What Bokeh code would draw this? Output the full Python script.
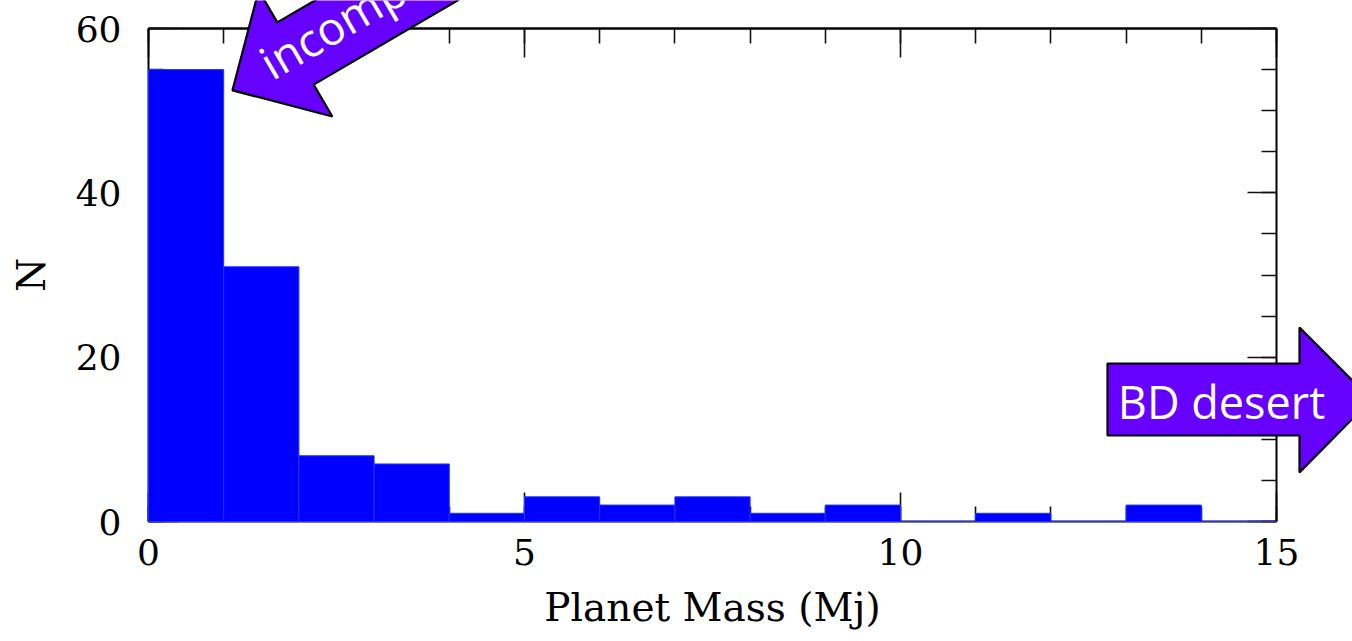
import math
from bokeh.plotting import figure
from bokeh.models import (FixedTicker, LinearAxis, Range1d, PolyAnnotation, Label,
                          ColumnDataSource, CustomJSTickFormatter)
from bokeh.embed import file_html
from bokeh.resources import INLINE

# ---- data ----
bin_left = [0, 1, 2, 3, 4, 5, 6, 7, 8, 9, 10, 11, 12, 13, 14]
bin_right = [1, 2, 3, 4, 5, 6, 7, 8, 9, 10, 11, 12, 13, 14, 15]
counts = [55, 31, 8, 7, 1, 3, 2, 3, 1, 2, 0, 1, 0, 2, 0]
x_ticks = [0, 5, 10, 15]
x_minor = list(range(0, 16))
y_ticks = [0, 20, 40, 60]
y_minor = list(range(0, 61, 5))
x_label = "Planet Mass (Mj)"
y_label = "N"
arrow1_text = "incompleteness"
arrow2_text = "BD desert"

X0, X1, Y0, Y1 = 0, 15, 0, 60          # data extent of the histogram box
W, H = 1352, 641
FL, FR, FT, FB = 148, 1276, 28, 521    # where that box sits on the page (px)

# ---- pixel -> data helpers ----
def dx(px):
    return X0 + (px - FL) / (FR - FL) * (X1 - X0)

def dy(py):
    return Y0 + (FB - py) / (FB - FT) * (Y1 - Y0)

p = figure(width=W, height=H,
           x_range=Range1d(dx(0), dx(W)), y_range=Range1d(dy(H), dy(0)),
           output_backend="svg", toolbar_location=None, min_border=0,
           x_axis_label=x_label, y_axis_label=y_label)
p.grid.visible = False
p.background_fill_color = "white"
p.border_fill_color = "white"
p.outline_line_color = None

blank = CustomJSTickFormatter(code="return ''")

def style_axis(ax, ticks, minor, bounds, loc, show_labels, lw=2):
    ax.ticker = FixedTicker(ticks=ticks, minor_ticks=minor)
    ax.bounds = bounds
    ax.fixed_location = loc
    ax.axis_line_color = "black"
    ax.axis_line_width = lw
    ax.major_tick_in = 29
    ax.major_tick_out = 0
    ax.minor_tick_in = 15
    ax.minor_tick_out = 0
    ax.major_tick_line_color = "#111111"
    ax.minor_tick_line_color = "#111111"
    ax.major_tick_line_width = 1.6
    ax.minor_tick_line_width = 1.6
    if show_labels:
        ax.major_label_text_font = "DejaVu Serif"
        ax.major_label_text_font_size = "36px"
        ax.major_label_text_color = "black"
        ax.axis_label_text_font = "DejaVu Serif"
        ax.axis_label_text_font_size = "39px"
        ax.axis_label_text_font_style = "normal"
        ax.axis_label_text_color = "black"
    else:
        ax.formatter = blank
        ax.major_label_standoff = 0

xa = p.xaxis[0]
ya = p.yaxis[0]
style_axis(xa, x_ticks, x_minor, (X0, X1), Y0, True)
style_axis(ya, y_ticks, y_minor, (Y0, Y1), X0, True)
xa.major_label_standoff = 17
xa.axis_label_standoff = 17
ya.major_label_standoff = 27
ya.axis_label_standoff = 19

top = LinearAxis()
style_axis(top, x_ticks, x_minor, (X0, X1), Y1, False, lw=2.6)
p.add_layout(top, "above")
right = LinearAxis()
style_axis(right, y_ticks, y_minor, (Y0, Y1), X1, False)
p.add_layout(right, "right")

src = ColumnDataSource(dict(left=bin_left, right=bin_right, top=counts, bottom=[0] * len(counts)))
bars = p.quad(left="left", right="right", top="top", bottom="bottom", source=src,
              fill_color="#0000FF", line_color="#2233FF", line_width=1)
bars.level = "annotation"

PURPLE = "#6600FF"

# Arrow 1: pointing down-left
ang = math.radians(30.3)
d = (math.cos(ang), -math.sin(ang))
n = (math.sin(ang), math.cos(ang))
M = (295.0, 53.0)
head_len, head_half, shaft_half, shaft_len = 73.0, 73.0, 36.0, 450.0
def pt(base, a, b):
    return (base[0] + a * d[0] + b * n[0], base[1] + a * d[1] + b * n[1])
a1 = [pt(M, -head_len, 0), pt(M, 0, head_half), pt(M, 0, shaft_half),
      pt(M, shaft_len, shaft_half), pt(M, shaft_len, -shaft_half),
      pt(M, 0, -shaft_half), pt(M, 0, -head_half)]
poly1 = PolyAnnotation(xs=[dx(q[0]) for q in a1], ys=[dy(q[1]) for q in a1],
                       fill_color=PURPLE, fill_alpha=1.0, line_color="black", line_width=2.2,
                       line_alpha=1.0, level="overlay")
p.add_layout(poly1)
t1x, t1y = 271 - 16 * n[0], 79 - 16 * n[1]
t1 = Label(x=dx(t1x), y=dy(t1y), text=arrow1_text, angle=ang, angle_units="rad",
           text_font="Open Sans", text_font_size="46px", text_color="white",
           text_align="left", text_baseline="alphabetic", level="overlay")
p.add_layout(t1)

# Arrow 2: pointing right
a2 = [(1107, 363), (1299, 363), (1299, 327), (1371, 399), (1299, 472), (1299, 435), (1107, 435)]
poly2 = PolyAnnotation(xs=[dx(q[0]) for q in a2], ys=[dy(q[1]) for q in a2],
                       fill_color=PURPLE, fill_alpha=1.0, line_color="black", line_width=2.2,
                       line_alpha=1.0, level="overlay")
p.add_layout(poly2)
t2 = Label(x=dx(1221), y=dy(401), text=arrow2_text,
           text_font="Open Sans", text_font_size="45px", text_color="white",
           text_align="center", text_baseline="alphabetic", level="overlay")
p.add_layout(t2)

open("out.html", "w").write(file_html(p, INLINE))
